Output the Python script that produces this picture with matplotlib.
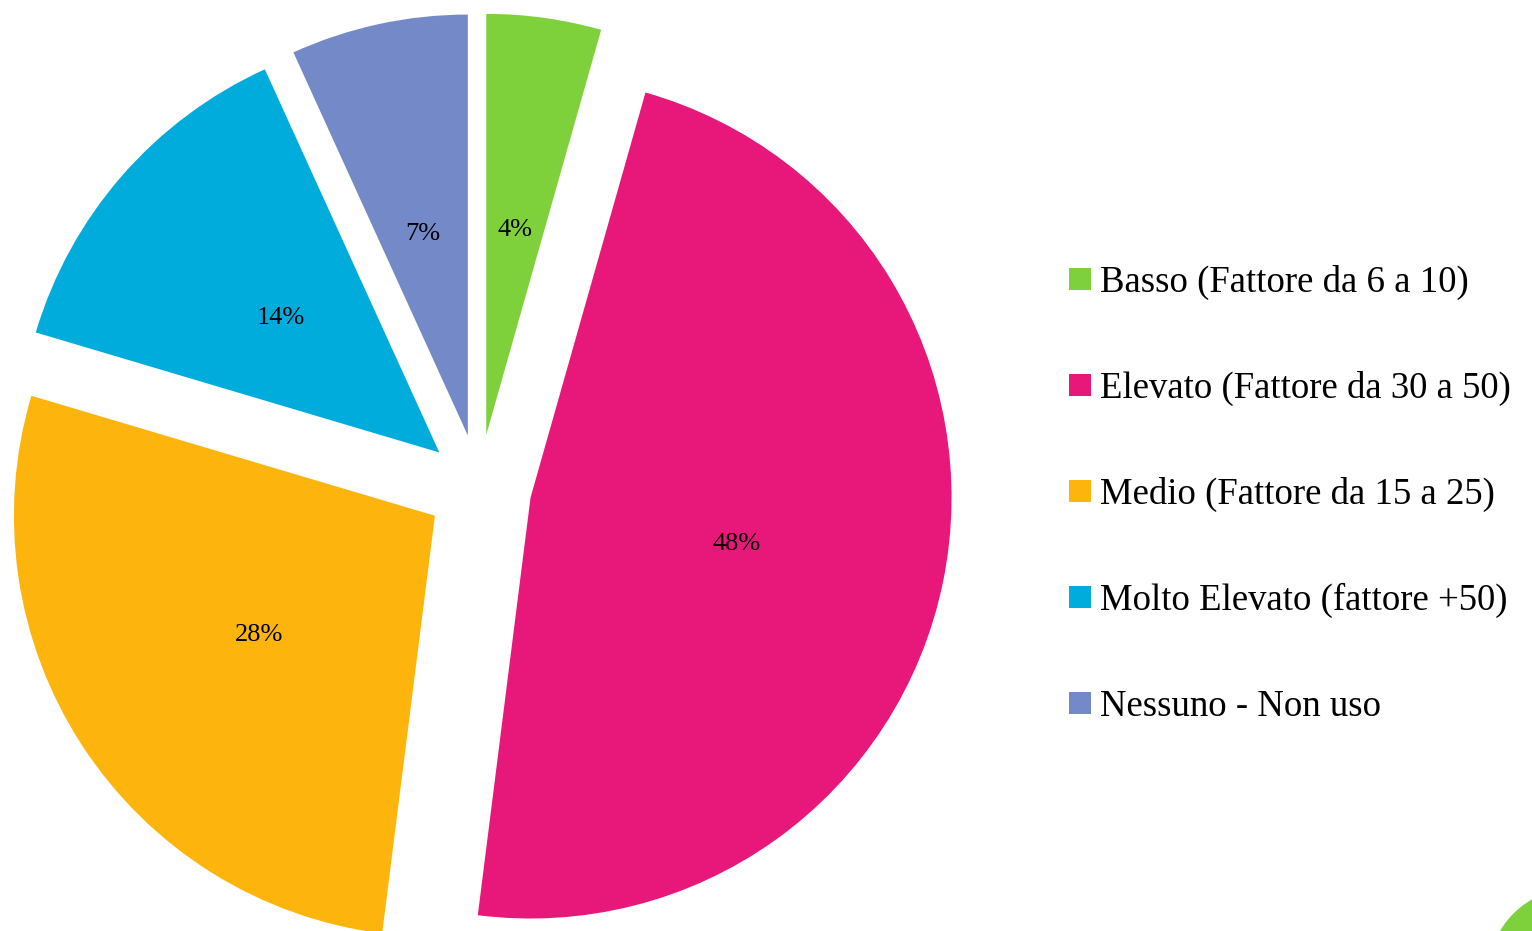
import matplotlib
matplotlib.use("Agg")
import matplotlib.pyplot as plt
from matplotlib.patches import Circle, Rectangle

# Data
categories = ["Basso (Fattore da 6 a 10)",
              "Elevato (Fattore da 30 a 50)",
              "Medio (Fattore da 15 a 25)",
              "Molto Elevato (fattore +50)",
              "Nessuno - Non uso"]
values = [4.4, 47.6, 27.6, 13.6, 6.8]
colors = ["#7ED13B", "#E8177A", "#FDB50D", "#00ACDC", "#748AC8"]

W, H = 1532, 931
fig = plt.figure(figsize=(W / 100, H / 100), dpi=100)
ax = fig.add_axes([0, 0, 1, 1])

cx, cy, R = 479, 487, 421  # pie centre / radius in pixels
wedges, texts, autotexts = ax.pie(
    values, colors=colors, startangle=90, counterclock=False,
    explode=[0.125] * len(values), autopct='%.0f%%', pctdistance=0.5,
    radius=1, center=(0, 0),
    textprops=dict(fontfamily='Liberation Serif', fontsize=19, color='black'),
    wedgeprops=dict(linewidth=0))
for t in autotexts:
    t.set_y(t.get_position()[1] - 4 / R)
ax.set_xlim(-cx / R, (W - cx) / R)
ax.set_ylim((cy - H) / R, cy / R)
ax.set_aspect('auto')
ax.axis('off')

# decorative green circle at bottom-right corner
ax.add_patch(Circle(((1575 - cx) / R, (cy - 975) / R), 87 / R,
                    color="#7ED13B", linewidth=0))

# Legend
for i, (lab, col) in enumerate(zip(categories, colors)):
    yc = 279 + 106 * i
    fig.add_artist(Rectangle((1069 / W, 1 - (yc + 11) / H), 22 / W, 22 / H,
                             transform=fig.transFigure, facecolor=col,
                             edgecolor='none'))
    fig.text(1100 / W, 1 - (yc + 13) / H, lab, fontfamily='Liberation Serif',
             fontsize=26.5, color='black', va='baseline', ha='left')

fig.savefig("out.png", dpi=100, facecolor='white')
